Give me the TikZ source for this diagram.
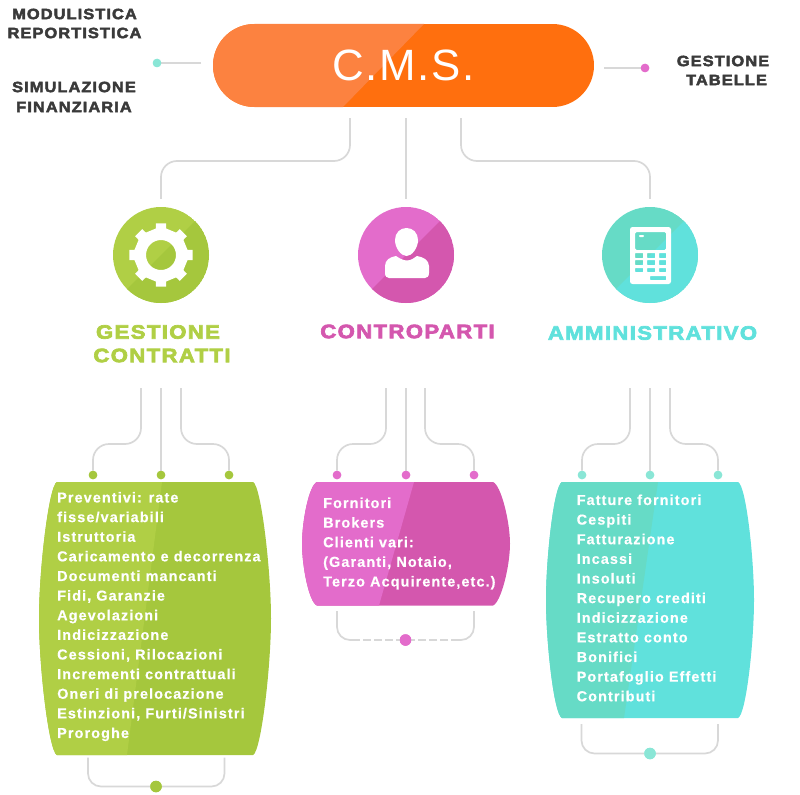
\documentclass[tikz,border=0pt]{standalone}
\usepackage{fontspec}
\setmainfont{Liberation Sans}
\newfontfamily\heavy[LetterSpace=7,FakeBold=3,FakeStretch=1.10]{Liberation Sans Bold}
\newfontfamily\heavycat[LetterSpace=7,FakeBold=3.5,FakeStretch=1.14]{Liberation Sans Bold}
\newfontfamily\listfont[LetterSpace=7.5,FakeBold=0.4]{Liberation Sans Bold}
\newfontfamily\titlefont[LetterSpace=4]{Liberation Sans}
\definecolor{orL}{HTML}{FC8240}\definecolor{orD}{HTML}{FF6F0E}
\definecolor{grL}{HTML}{B0CF45}\definecolor{grD}{HTML}{A5C73D}
\definecolor{maL}{HTML}{E36CCB}\definecolor{maD}{HTML}{D457AE}
\definecolor{teL}{HTML}{66DBC6}\definecolor{teD}{HTML}{60E1DC}
\definecolor{lineC}{HTML}{D8D8D8}\definecolor{ink}{HTML}{3A3A3A}
\definecolor{dotT}{HTML}{8AE6D6}
\tikzset{
  conn/.style={draw=lineC,line width=1.7bp,rounded corners=16bp},
  dotS/.style={circle,inner sep=0pt,minimum size=8.5bp},
  bigdot/.style={circle,inner sep=0pt,minimum size=11.5bp},
  side/.style={font=\heavy\fontsize{15}{15}\selectfont,text=ink,inner sep=0pt,anchor=center},
  cat/.style={font=\heavycat\fontsize{19.5}{19.5}\selectfont,inner sep=0pt,anchor=center},
  listtxt/.style={font=\listfont\fontsize{14.5}{19.7}\selectfont,text=white,inner sep=0pt,anchor=north west,align=left},
  disc/.style={circle,inner sep=0pt,minimum size=96bp},
}
\newcommand{\twodisc}[3]{%
  \begin{scope}
    \clip (#1,255) circle (48);
    \fill[#2] (#1,255) circle (48);
    \fill[#3] (#1+70,185) -- (#1-70,325) -- (#1+70,325) -- cycle;
  \end{scope}}
\newcommand{\barrelpath}[7]{% left, corner-left, corner-right, right, top, bottom, mid
  (#2,#5) -- (#3,#5) .. controls (#3+8,#5+3) and (#4,#6*0.5+#5*0.5-#6*0.18+#5*0.18) .. (#4,#7)
  .. controls (#4,#6*0.5+#5*0.5+#6*0.18-#5*0.18) and (#3+8,#6-3) .. (#3,#6) -- (#2,#6)
  .. controls (#2-8,#6-3) and (#1,#6*0.5+#5*0.5+#6*0.18-#5*0.18) .. (#1,#7)
  .. controls (#1,#6*0.5+#5*0.5-#6*0.18+#5*0.18) and (#2-8,#5+3) .. (#2,#5) -- cycle}
\begin{document}
\begin{tikzpicture}[x=1bp,y=-1bp]
\useasboundingbox (0,0) rectangle (800,795);
% --- C.M.S. pill
\begin{scope}
  \clip[rounded corners=41.5bp] (213,24) rectangle (594,107);
  \fill[orD] (213,24) rectangle (594,107);
  \fill[orL] (213,24) -- (424,24) -- (343,107) -- (213,107) -- cycle;
\end{scope}
\node[inner sep=0pt,text=white,font=\titlefont\fontsize{44}{44}\selectfont] (cms) at (403.5,65.5) {C.M.S.};
% --- discs
\twodisc{161}{grL}{grD}
\twodisc{406}{maL}{maD}
\twodisc{650}{teL}{teD}
\node[disc] (gear) at (161,255) {};
\node[disc] (person) at (406,255) {};
\node[disc] (calc) at (650,255) {};
% gear icon
\begin{scope}[shift={(161,255)}]
  \fill[white,even odd rule] (-11:27) \foreach \a in {0,45,...,315}{ -- (\a-11:27) -- (\a-9:32) -- (\a+9:32) -- (\a+11:27)} -- cycle (0,0) circle (15);
\end{scope}
% person icon
\fill[white] (406.5,228) .. controls (413,228) and (418,233) .. (418,240) .. controls (418,248) and (412,256) .. (406.5,256) .. controls (401,256) and (395,248) .. (395,240) .. controls (395,233) and (400,228) .. (406.5,228) -- cycle;
\fill[white] (385,273) -- (385,266) .. controls (385,260) and (390,257) .. (396,256) .. controls (399,258) and (403,260.5) .. (407,260.5) .. controls (411,260.5) and (414,258) .. (417,256) .. controls (423,257) and (429,260) .. (429,266) -- (429,273) .. controls (429,276.5) and (427,278) .. (425,278) -- (389,278) .. controls (387,278) and (385,276.5) .. (385,273) -- cycle;
% calculator icon
\fill[white,even odd rule] [rounded corners=2.5bp] (630,227) rectangle (671,284)
  [rounded corners=1.5bp] (635,232) rectangle (666,250)
  [rounded corners=0.5bp]
  (635,253) rectangle (643,258) (647,253) rectangle (655,258) (659,253) rectangle (666,258)
  (635,260) rectangle (643,265) (647,260) rectangle (655,265) (659,260) rectangle (666,265)
  (635,268) rectangle (643,272) (647,268) rectangle (655,272) (659,268) rectangle (666,272)
  (650,276) rectangle (666,280);
\fill[white,rounded corners=0.8bp] (639,235) rectangle (644,237);
% --- side labels
\node[side] (l1) at (74.5,14) {MODULISTICA};
\node[side] (l2) at (74.5,33) {REPORTISTICA};
\node[side] (l3) at (74,87) {SIMULAZIONE};
\node[side] (l4) at (74,107) {FINANZIARIA};
\node[side] (r1) at (723,61) {GESTIONE};
\node[side] (r2) at (726.5,80) {TABELLE};
% --- category labels
\node[cat,text=grL] (c1a) at (158,332) {GESTIONE};
\node[cat,text=grL] (c1b) at (162,355.5) {CONTRATTI};
\node[cat,text=maD] (c2) at (407.5,331.5) {CONTROPARTI};
\node[cat,text=teD] (c3) at (652.5,333) {AMMINISTRATIVO};
% --- barrels
\begin{scope}
  \clip \barrelpath{39}{57}{253}{271}{482}{755}{618.5};
  \fill[grD] (30,475) rectangle (280,760);
  \fill[grL] (30,475) -- (162,475) -- (162,482) -- (127,755) -- (127,760) -- (30,760) -- cycle;
\end{scope}
\begin{scope}
  \clip \barrelpath{302}{317}{493}{510}{482}{605.5}{543.75};
  \fill[maD] (295,475) rectangle (515,610);
  \fill[maL] (295,475) -- (414,475) -- (414,482) -- (379,605.5) -- (379,610) -- (295,610) -- cycle;
\end{scope}
\begin{scope}
  \clip \barrelpath{546}{562}{738}{754}{482}{718}{600};
  \fill[teD] (540,475) rectangle (760,725);
  \fill[teL] (540,475) -- (658,475) -- (658,482) -- (624,718) -- (624,725) -- (540,725) -- cycle;
\end{scope}
% --- list texts
\node[listtxt] (list1) at (57,491.8) {Preventivi: rate\\fisse/variabili\\Istruttoria\\Caricamento e decorrenza\\Documenti mancanti\\Fidi, Garanzie\\Agevolazioni\\Indicizzazione\\Cessioni, Rilocazioni\\Incrementi contrattuali\\Oneri di prelocazione\\Estinzioni, Furti/Sinistri\\Proroghe};
\node[listtxt] (list2) at (323,497.3) {Fornitori\\Brokers\\Clienti vari:\\(Garanti, Notaio,\\Terzo Acquirente,etc.)};
\node[listtxt] (list3) at (576.5,494.3) {Fatture fornitori\\Cespiti\\Fatturazione\\Incassi\\Insoluti\\Recupero crediti\\Indicizzazione\\Estratto conto\\Bonifici\\Portafoglio Effetti\\Contributi};
% --- named points
\coordinate (a1) at (350,107); \coordinate (a2) at (406,107); \coordinate (a3) at (461,107);
\coordinate (k1) at (161,161); \coordinate (k3) at (650,161);
\coordinate (cl) at (213,63); \coordinate (cr) at (594,68);
\foreach \n/\x in {g/141,h/161,i/181,m/386,n/406,o/425,t/630,u/650,v/670}{\coordinate (s\n) at (\x,388);}
% --- dots
\node[dotS,fill=dotT] (dl) at (157,63) {};
\node[dotS,fill=maL] (dr) at (645,68) {};
\node[dotS,fill=grD] (g1) at (93,475) {};
\node[dotS,fill=grD] (g2) at (161,475) {};
\node[dotS,fill=grD] (g3) at (229,475) {};
\node[dotS,fill=maL] (m1) at (337,475) {};
\node[dotS,fill=maL] (m2) at (406,475) {};
\node[dotS,fill=maL] (m3) at (474,475) {};
\node[dotS,fill=dotT] (t1) at (582,475) {};
\node[dotS,fill=dotT] (t2) at (650,475) {};
\node[dotS,fill=dotT] (t3) at (718,475) {};
\node[bigdot,fill=grD] (gb) at (156,786.5) {};
\node[bigdot,fill=maL] (mb) at (405.5,640) {};
\node[bigdot,fill=dotT] (tb) at (650,753.5) {};
\coordinate (gbl) at (88,757.5); \coordinate (gbr) at (224.5,757.5);
\coordinate (mbl) at (337,611); \coordinate (mbr) at (474,611);
\coordinate (tbl) at (581.5,724); \coordinate (tbr) at (718,724);
\coordinate (mbla) at (352,640); \coordinate (mbra) at (459,640);
% --- connectors
\draw[conn,shorten <=11bp,shorten >=8bp] (a1) |- (k1) -- (gear.north);
\draw[conn,shorten <=11bp,shorten >=8bp] (a2) -- (person.north);
\draw[conn,shorten <=11bp,shorten >=8bp] (a3) |- (k3) -- (calc.north);
\draw[conn,shorten <=12bp] (cl) -- (dl);
\draw[conn,shorten <=10bp] (cr) -- (dr);
\draw[conn] (sg) -- (141,444) -- (93,444) -- (g1);
\draw[conn] (sh) -- (g2);
\draw[conn] (si) -- (181,444) -- (229,444) -- (g3);
\draw[conn] (sm) -- (386,444) -- (337,444) -- (m1);
\draw[conn] (sn) -- (m2);
\draw[conn] (so) -- (425,444) -- (474,444) -- (m3);
\draw[conn] (st) -- (630,444) -- (582,444) -- (t1);
\draw[conn] (su) -- (t2);
\draw[conn] (sv) -- (670,444) -- (718,444) -- (t3);
% brackets
\draw[conn,rounded corners=13bp] (gbl) |- (gb) -| (gbr);
\draw[conn,rounded corners=13bp] (tbl) |- (tb) -| (tbr);
\draw[conn,rounded corners=13bp] (mbl) |- (mbla);
\draw[conn,rounded corners=13bp] (mbr) |- (mbra);
\draw[draw=lineC,line width=1.7bp,dash pattern=on 8bp off 3bp] (mbla) -- (mb);
\draw[draw=lineC,line width=1.7bp,dash pattern=on 8bp off 3bp] (mbra) -- (mb);
% dots above lines
\foreach \n/\c in {dl/dotT,dr/maL,g1/grD,g2/grD,g3/grD,m1/maL,m2/maL,m3/maL,t1/dotT,t2/dotT,t3/dotT}{\fill[\c] (\n) circle (4.25);}
\fill[grD] (gb) circle (5.75);\fill[maL] (mb) circle (5.75);\fill[dotT] (tb) circle (5.75);
\end{tikzpicture}
\end{document}
